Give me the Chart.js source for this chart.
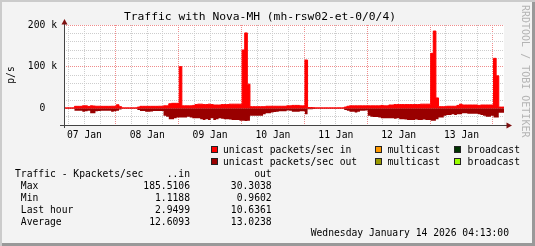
<!DOCTYPE html>
<html><head><meta charset="utf-8">
<script src="https://cdn.jsdelivr.net/npm/chart.js@4.4.1/dist/chart.umd.min.js"></script>
<style>
html,body{margin:0;padding:0;background:#f3f3f3;}
#wrap{position:relative;width:535px;height:246px;background:#f3f3f3;box-shadow:inset 2px 2px 0 #cbcbcb, inset -3px -3px 0 #999;overflow:hidden;font-family:'DejaVu Sans Mono',monospace;font-size:9.7px;color:#000;}
canvas{position:absolute;left:0;top:0;}
.t{position:absolute;white-space:pre;line-height:12px;}
.box{position:absolute;width:7px;height:7px;box-sizing:border-box;border:1px solid #222;}
#title{left:0;width:520px;text-align:center;top:10px;font-size:11.3px;line-height:14px;}
#credit{position:absolute;left:520px;top:5px;writing-mode:vertical-rl;font-size:10px;line-height:10px;color:#b4b4b4;white-space:pre;}
</style></head><body>
<div id="wrap">
<canvas id="c" width="535" height="246"></canvas>
<div id="title" class="t">Traffic with Nova-MH (mh-rsw02-et-0/0/4)</div>
<div id="credit">RRDTOOL / TOBI OETIKER</div>
<div id="legend"></div>
<div id="stats"></div>
<div class="t" style="right:26px;top:227px;">Wednesday January 14 2026 04:13:00</div>
</div>
<script>
// ---- data (Kpackets/sec), hourly samples starting Jan 7 04:13 ----
const startHour = 4 + 13/60; // hours after 07 Jan 00:00
const inK = [
 1.2,1.2,1.2,1.2,
 4.8,4.8,4.8,6,6,4.5,6,5.5,5,5,4.8,4.8,4.8,4.8,5,5,8.5,4,
 1.2,1.2,1.2,1.2,1.2,1.2,
 3,4.8,4.8,4.8,4.8,4.8,4.8,4.8,5,5,6,6,11,12,12,12,100,6,
 6,6,6,7,9,10,10,9,9,10,9,
 8,8,8,9,9,9,10,10,10,10,10,
 140,181,58,
 4,4,4,4,4,4,
 5,5,5,5,5,5,5,5,
 6,6,7,7,7,6,6,
 116,
 2,2,1.5,
 1.2,1.2,1.2,1.2,1.2,1.2,1.2,1.2,1.2,1.2,1.2,
 3,5,6,6,6,6,6,6,6,
 6,6,6,6,6,7,
 6,6,8,8,9,9,9,9,9,9,9,9,9,9,10,10,10,10,
 132,185.5,25,
 4,4,4,5,5,5,5,7,10,8,8,8,8,8,8,7,8,8,8,8,8,
 120,78,3,3
];
const outK = [
 -1,-1,-1,-1,
 -5.6,-5.6,-6,-8,-7,-6,-12,-12,-7,-6.5,-5.6,-6,-6,-6,-8,-7,-6,-3,
 -1,-1,-1,-1,-1,-1,
 -4,-6.5,-6.5,-8,-8,-7.5,-6.5,-6.5,-6.5,-6.5,-18,-20,-26,-26,-24,-22,-22,-22,
 -22,-20,-22,-24,-24,-24,-26,-28,-26,-28,-24,
 -28,-26,-24,-25,-26,-26,-27,-28,-28,-28,-30,
 -30,-30.3,-30,
 -18,-18,-18,-18,-18,-14,
 -12,-12,-10,-9,-8,-7,-7,-7,
 -5,-6,-8,-8,-8,-7,-7,
 -14,
 -2,-2,-1.5,
 -1,-1,-1,-1,-1,-0.96,-1,-1,-1,-1,-1,
 -4,-6,-8,-8,-10,-8,-6,-6,-5,
 -18,-20,-21,-21,-22,-24,
 -24,-24,-24,-24,-25,-24,-26,-26,-27,-28,-28,-28,-27,-28,-28,-27,-28,-28,
 -30,-30,-26,
 -22,-22,-18,-16,-16,-14,-16,-14,-14,-12,-12,-13,-13,-13,-13,-14,-16,-18,-20,-20,-18,
 -22,-22,-10.6,-10.6
];
const tickHours = [6,12,18,24,30,36,42,48,54,60,66,72,78,84,90,96,102,108,114,120,126,132,138,144,150,156,162,168];
const dayLabels = ['07 Jan','08 Jan','09 Jan','10 Jan','11 Jan','12 Jan','13 Jan'];
const yLabels = {200:'200 k', 100:'100 k', 0:'0  '};
const legendNames = ['unicast packets/sec in','multicast','broadcast','unicast packets/sec out','multicast','broadcast'];
const legendColors = ['#ff0000','#ff9900','#003300','#990000','#999900','#99ff00'];
const statLabels = ['Max','Min','Last hour','Average'];
const statIn = ['185.5106','1.1188','2.9499','12.6093'];
const statOut = ['30.3038','0.9602','10.6361','13.0238'];

// ---- HTML legend and stats ----
const boxX = [211,375,454], textX = [223,387.5,467.5], rowTop = [144,156];
let lh = '';
legendNames.forEach((n,i)=>{
  const c = i%3, r = Math.floor(i/3);
  lh += `<div class="box" style="left:${boxX[c]}px;top:${rowTop[r]+2}px;background:${legendColors[i]}"></div>`;
  lh += `<div class="t" style="left:${textX[c]}px;top:${rowTop[r]}px">${n}</div>`;
});
document.getElementById('legend').innerHTML = lh;
let sh = `<div class="t" style="left:15px;top:168px">${'Traffic - Kpackets/sec' + '..in'.padStart(8) + 'out'.padStart(14)}</div>`;
statLabels.forEach((l,i)=>{
  sh += `<div class="t" style="left:15px;top:${180+12*i}px">${(' '+l).padEnd(22) + statIn[i].padStart(8) + statOut[i].padStart(14)}</div>`;
});
document.getElementById('stats').innerHTML = sh;

// ---- chart ----
const toPts = arr => { const p = arr.map((v,i)=>({x:startHour+i, y:v})); p.push({x:startHour+arr.length, y:arr[arr.length-1]}); return p; };
const FONT = "'DejaVu Sans Mono', monospace";
const MINOR = 'rgb(205,205,205)', MAJOR = 'rgb(240,140,140)';

const deco = {
  id:'deco',
  beforeDraw(chart){
    const {ctx, chartArea:a} = chart;
    ctx.save(); ctx.fillStyle = '#fff'; ctx.fillRect(a.left, a.top, a.right-a.left, a.bottom-a.top); ctx.restore();
  },
  afterDraw(chart){
    const {ctx, chartArea:a} = chart;
    ctx.save();
    ctx.strokeStyle = '#444'; ctx.lineWidth = 1;
    ctx.beginPath();
    ctx.moveTo(a.left-4, a.bottom+0.5); ctx.lineTo(a.right+3, a.bottom+0.5);
    ctx.moveTo(a.left+0.5, a.top-3); ctx.lineTo(a.left+0.5, a.bottom+3);
    ctx.stroke();
    ctx.fillStyle = '#7f1010';
    ctx.beginPath();
    ctx.moveTo(a.left+0.5, a.top-6); ctx.lineTo(a.left-2.5, a.top-0.5); ctx.lineTo(a.left+3.5, a.top-0.5); ctx.closePath(); ctx.fill();
    ctx.beginPath();
    ctx.moveTo(a.right+8, a.bottom+0.5); ctx.lineTo(a.right+2.5, a.bottom-2.5); ctx.lineTo(a.right+2.5, a.bottom+3.5); ctx.closePath(); ctx.fill();
    ctx.restore();
  }
};

new Chart(document.getElementById('c'), {
  type:'line',
  data:{datasets:[
    {label:'unicast packets/sec out', data:toPts(outK), stepped:true, fill:'origin', backgroundColor:'#990000', borderColor:'#990000', borderWidth:0, pointRadius:0, order:2},
    {label:'unicast packets/sec in', data:toPts(inK), stepped:true, fill:'origin', backgroundColor:'#ff0000', borderColor:'#ff0000', borderWidth:1, pointRadius:0, order:1}
  ]},
  options:{
    responsive:false, animation:false, devicePixelRatio:1,
    layout:{padding:{left:0, top:25, right:31, bottom:0}},
    plugins:{legend:{display:false}, tooltip:{enabled:false}, title:{display:false}},
    scales:{
      x:{type:'linear', min:startHour, max:startHour+168,
        afterBuildTicks:s=>{ s.ticks = tickHours.map(v=>({value:v})); },
        afterFit:s=>{ s.height = 121; },
        ticks:{autoSkip:false, maxRotation:0, minRotation:0, padding:5, color:'#000', font:{family:FONT, size:9.7},
          callback:v=> (v%24===12) ? dayLabels[(v-12)/24] : ''},
        grid:{color:c=> (c.tick && c.tick.value%24===0) ? MAJOR : MINOR, lineWidth:1, drawTicks:false},
        border:{display:false, dash:[1,1]}
      },
      y:{min:-40, max:200,
        afterFit:s=>{ s.width = 64; },
        ticks:{stepSize:20, autoSkip:false, padding:7, color:'#000', font:{family:FONT, size:9.7}, callback:v=> (yLabels[v] !== undefined ? yLabels[v] : '')},
        title:{display:true, text:'p/s', color:'#000', font:{family:FONT, size:9.7}, padding:{top:6, bottom:0}},
        grid:{color:c=> (c.tick && c.tick.value===-40) ? 'rgba(0,0,0,0)' : ((c.tick && c.tick.value%100===0) ? MAJOR : MINOR), lineWidth:1, drawTicks:false},
        border:{display:false, dash:[1,1]}
      }
    }
  },
  plugins:[deco]
});
</script>
</body></html>
